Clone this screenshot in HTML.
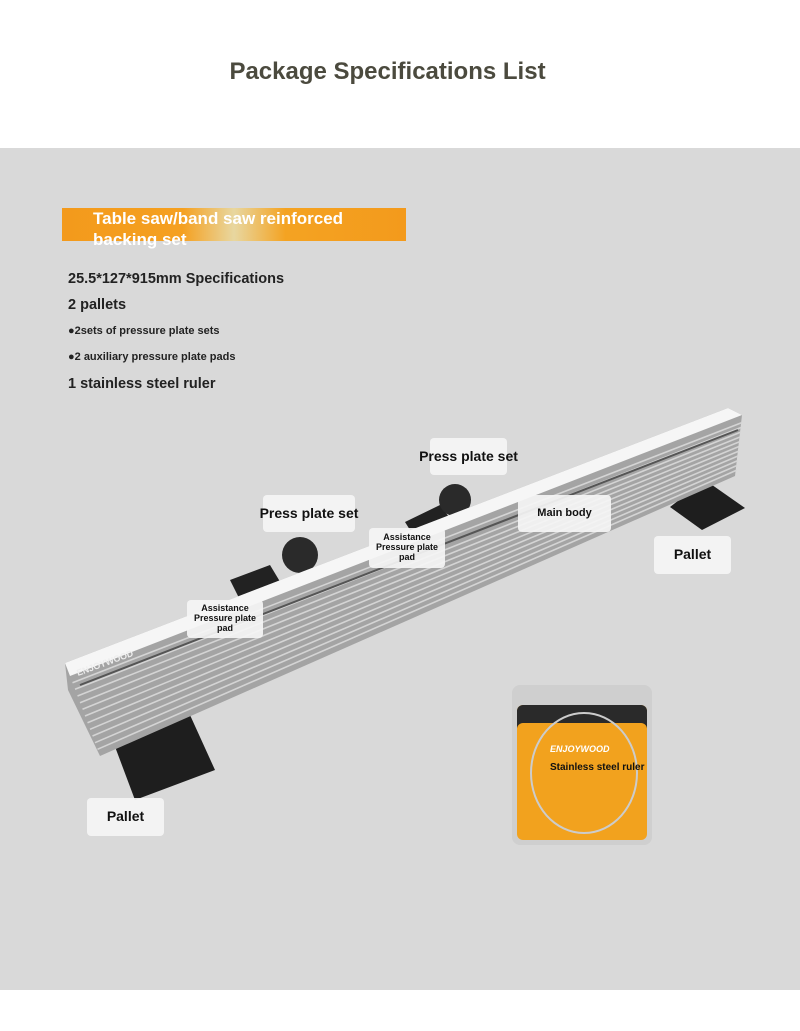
<!DOCTYPE html>
<html><head><meta charset="utf-8"><style>
body{margin:0;width:800px;height:1031px;position:relative;background:#fff;font-family:"Liberation Sans",sans-serif;overflow:hidden}
.band{position:absolute;left:0;top:148px;width:800px;height:842px;background:#d9d9d9}
.t{position:absolute;font-weight:bold;white-space:nowrap}
.lb{position:absolute;background:rgba(245,245,245,0.92);border-radius:4px;font-weight:bold;color:#111;text-align:center;display:flex;align-items:center;justify-content:center;line-height:1.1;white-space:nowrap}
</style></head><body>
<div class="t" style="left:0;width:775px;text-align:center;top:58px;font-size:24px;color:#4b4a3e">Package Specifications List</div>
<div class="band"></div>
<div style="position:absolute;left:62px;top:208px;width:344px;height:33px;background:linear-gradient(90deg,#f39a1c 0%,#f5a020 35%,#e8d7a0 50%,#f4a322 65%,#f39a1c 100%)"></div>
<div class="t" style="left:93px;top:208px;font-size:17px;color:#fff;line-height:21px">Table saw/band saw reinforced<br>backing set</div>
<div class="t" style="left:68px;top:271px;font-size:14.5px;color:#222">25.5*127*915mm Specifications</div>
<div class="t" style="left:68px;top:297px;font-size:14.5px;color:#222">2 pallets</div>
<div class="t" style="left:68px;top:325px;font-size:11px;color:#222">●2sets of pressure plate sets</div>
<div class="t" style="left:68px;top:351px;font-size:11px;color:#222">●2 auxiliary pressure plate pads</div>
<div class="t" style="left:68px;top:376px;font-size:14.5px;color:#222">1 stainless steel ruler</div>
<svg style="position:absolute;left:0;top:0" width="800" height="1031">
<polygon points="105,720 190,715 215,770 135,800" fill="#1e1e1e"/>
<polygon points="670,507 705,480 745,508 702,530" fill="#1e1e1e"/>
<polygon points="230,580 270,565 285,590 240,600" fill="#222"/>
<circle cx="300" cy="555" r="18" fill="#2a2a2a"/>
<polygon points="405,522 440,505 455,525 415,538" fill="#222"/>
<circle cx="455" cy="500" r="16" fill="#2a2a2a"/>
<polygon points="65,663 728,408 742,415 735,476 100,756 68,690" fill="#a4a4a4"/>
<g stroke="#d4d4d4" stroke-width="1.6">
<line x1="72.5" y1="682.7" x2="741.5" y2="422.75"/>
<line x1="75" y1="689.3" x2="741" y2="427.5"/>
<line x1="77.5" y1="696" x2="740.5" y2="432.25"/>
<line x1="80" y1="702.7" x2="740" y2="437"/>
<line x1="82.5" y1="709.3" x2="739.5" y2="441.75"/>
<line x1="85" y1="716" x2="739" y2="446.5"/>
<line x1="87.5" y1="722.7" x2="738.5" y2="451.25"/>
<line x1="90" y1="729.3" x2="738" y2="456"/>
<line x1="92.5" y1="736" x2="737.5" y2="460.75"/>
<line x1="95" y1="742.7" x2="737" y2="465.5"/>
<line x1="97.5" y1="749.3" x2="736.5" y2="470.25"/>
</g>
<polygon points="65,663 728,408 742,415 70,676" fill="#f6f6f6"/>
<line x1="80" y1="685" x2="738" y2="430" stroke="#555" stroke-width="2"/>
<text x="78" y="676" font-size="9" font-weight="bold" fill="#eee" transform="rotate(-20 78 676)" font-family="Liberation Sans">ENJOYWOOD</text>
</svg>
<div class="lb" style="left:430px;top:438px;width:77px;height:37px;font-size:14px;overflow:visible">Press plate set</div>
<div class="lb" style="left:263px;top:495px;width:92px;height:37px;font-size:14px">Press plate set</div>
<div class="lb" style="left:518px;top:495px;width:93px;height:37px;font-size:11px">Main body</div>
<div class="lb" style="left:369px;top:528px;width:76px;height:40px;font-size:9px">Assistance<br>Pressure plate<br>pad</div>
<div class="lb" style="left:187px;top:600px;width:76px;height:38px;font-size:9px">Assistance<br>Pressure plate<br>pad</div>
<div class="lb" style="left:654px;top:536px;width:77px;height:38px;font-size:14px">Pallet</div>
<div class="lb" style="left:87px;top:798px;width:77px;height:38px;font-size:14px">Pallet</div>
<div style="position:absolute;left:512px;top:685px;width:140px;height:160px;background:#cfcfcf;border-radius:8px"></div>
<div style="position:absolute;left:517px;top:705px;width:130px;height:135px;background:#f2a21e;border-radius:6px;box-shadow:inset 0 18px 0 #2a2a2a"></div>
<div style="position:absolute;left:530px;top:712px;width:104px;height:118px;border:2px solid #ccc;border-radius:50%"></div>
<div class="t" style="left:550px;top:744px;font-size:9px;color:#fff;font-style:italic">ENJOYWOOD</div>
<div class="t" style="left:550px;top:762px;font-size:10px;color:#111">Stainless steel ruler</div>
</body></html>
